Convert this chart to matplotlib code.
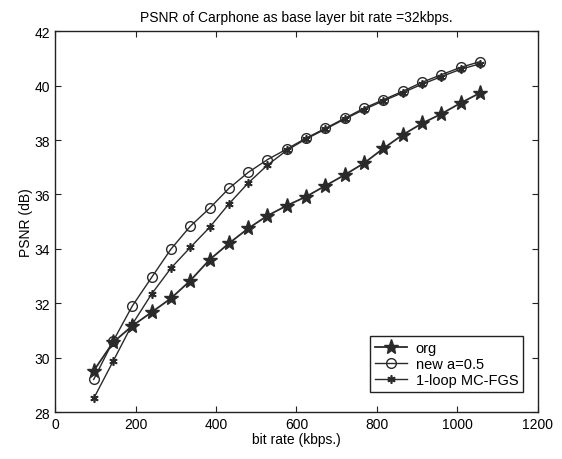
import matplotlib
matplotlib.use("Agg")
import matplotlib.pyplot as plt

bitrate = [96, 144, 192, 240, 288, 336, 384, 432, 480, 528, 576, 624, 672,
           720, 768, 816, 864, 912, 960, 1008, 1056]
org = [29.52, 30.56, 31.17, 31.67, 32.18, 32.83, 33.6, 34.2, 34.75, 35.22,
       35.59, 35.92, 36.32, 36.72, 37.15, 37.69, 38.19, 38.61, 38.96, 39.36, 39.73]
new_a05 = [29.2, 30.6, 31.9, 32.95, 33.99, 34.83, 35.49, 36.22, 36.81, 37.28,
           37.67, 38.07, 38.43, 38.8, 39.17, 39.48, 39.79, 40.12, 40.4, 40.67, 40.88]
mcfgs = [28.5, 29.86, 31.23, 32.34, 33.29, 34.05, 34.79, 35.65, 36.42, 37.08,
         37.62, 38.04, 38.4, 38.77, 39.12, 39.44, 39.74, 40.05, 40.33, 40.6, 40.8]

labels = ["org", "new a=0.5", "1-loop MC-FGS"]
title = "PSNR of Carphone as base layer bit rate =32kbps."
xlabel = "bit rate (kbps.)"
ylabel = "PSNR (dB)"

plt.rcParams['font.family'] = ['Liberation Sans', 'DejaVu Sans']

fig = plt.figure(figsize=(5.62, 4.60), dpi=100)
ax = fig.add_axes([0.098, 0.102, 0.859, 0.828])

c = '#2a2a2a'
ax.plot(bitrate, org, color=c, lw=1.3, marker='*', ms=11, mfc=c, mec=c, label=labels[0])
ax.plot(bitrate, new_a05, color=c, lw=1.0, marker='o', ms=7, mfc='none', mec=c, mew=1.0, label=labels[1])
ax.plot(bitrate, mcfgs, color=c, lw=1.0, marker=(6, 2), ms=6, mec=c, mew=1.2, label=labels[2])

ax.set_xlim(0, 1200)
ax.set_ylim(28, 42)
ax.set_xticks(range(0, 1201, 200))
ax.set_yticks(range(28, 43, 2))
ax.tick_params(direction='in', top=True, right=True, labelsize=10, length=4, color='#222')
for s in ax.spines.values():
    s.set_color('#222')
    s.set_linewidth(1.0)

ax.set_title(title, fontsize=10, pad=7)
ax.set_xlabel(xlabel, fontsize=10, labelpad=1)
ax.set_ylabel(ylabel, fontsize=10, labelpad=1)

leg = ax.legend(loc='lower right', fontsize=10.5, fancybox=False, framealpha=1,
                edgecolor='#222', handlelength=2.2, borderpad=0.35,
                labelspacing=0.12, handletextpad=0.6, bbox_to_anchor=(0.985, 0.034))
leg.get_frame().set_linewidth(1.0)

fig.savefig("out.png", dpi=100)
